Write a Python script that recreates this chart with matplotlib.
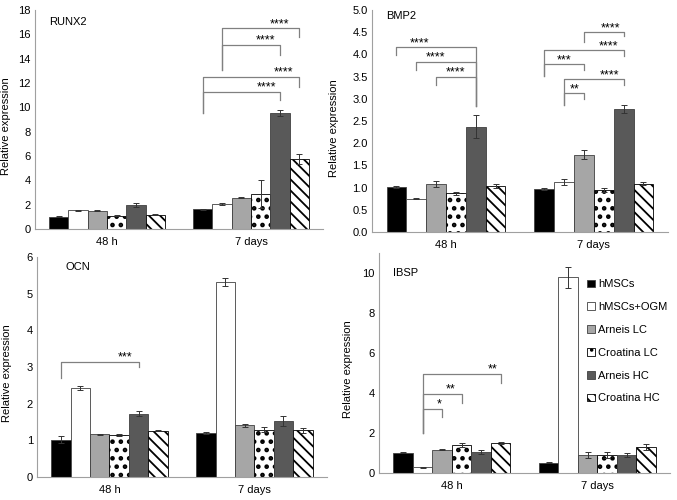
import matplotlib.pyplot as plt
import numpy as np

plt.rcParams['font.family'] = ['Liberation Sans', 'DejaVu Sans']
plt.rcParams['font.size'] = 8
plt.rcParams['hatch.linewidth'] = 1.3

groups = ['48 h', '7 days']
samples = ['hMSCs', 'hMSCs+OGM', 'Arneis LC', 'Croatina LC', 'Arneis HC', 'Croatina HC']

# mean / error per group (48 h, 7 days), one value per sample
runx2 = [[1.0, 1.53, 1.52, 1.1, 1.97, 1.18],
         [1.64, 2.05, 2.57, 2.87, 9.57, 5.74]]
runx2_err = [[0.05, 0.03, 0.06, 0.03, 0.2, 0.04],
             [0.04, 0.1, 0.05, 1.13, 0.25, 0.4]]

bmp2 = [[1.01, 0.75, 1.08, 0.87, 2.37, 1.04],
        [0.97, 1.13, 1.74, 0.95, 2.77, 1.09]]
bmp2_err = [[0.02, 0.01, 0.07, 0.04, 0.26, 0.05],
            [0.02, 0.07, 0.1, 0.05, 0.1, 0.04]]

ocn = [[1.02, 2.43, 1.16, 1.14, 1.73, 1.26],
       [1.2, 5.32, 1.41, 1.29, 1.53, 1.27]]
ocn_err = [[0.09, 0.05, 0.02, 0.03, 0.07, 0.01],
           [0.03, 0.12, 0.04, 0.07, 0.13, 0.08]]

ibsp = [[1.02, 0.28, 1.17, 1.39, 1.04, 1.5],
        [0.52, 9.78, 0.89, 0.89, 0.89, 1.3]]
ibsp_err = [[0.04, 0.02, 0.04, 0.1, 0.1, 0.07],
            [0.03, 0.52, 0.15, 0.15, 0.1, 0.15]]

# significance brackets: (group, left bar, right bar, top, left end, right end, label, label x frac)
runx2_sig = [(1, 0, 4, 11.3, 9.52, 10.61, '****', 0.82),
             (1, 0, 5, 12.53, 9.52, 11.65, '****', 0.84),
             (1, 1, 4, 15.13, 13.07, 14.3, '****', 0.75),
             (1, 1, 5, 16.49, 13.07, 15.75, '****', 0.75)]
bmp2_sig = [(0, 0, 4, 4.16, 3.99, 2.83, '****', 0.29),
            (0, 1, 4, 3.83, 3.65, 2.83, '****', 0.33),
            (0, 2, 4, 3.5, 3.31, 2.83, '****', 0.48),
            (1, 0, 2, 3.78, 3.52, 3.65, '***', 0.49),
            (1, 0, 4, 4.09, 3.52, 3.97, '****', 0.81),
            (1, 1, 2, 3.12, 2.86, 3.0, '**', 0.53),
            (1, 1, 4, 3.44, 2.86, 3.31, '****', 0.77),
            (1, 2, 4, 4.5, 4.27, 4.42, '****', 0.66)]
ocn_sig = [(0, 0, 4, 3.15, 2.7, 3.0, '***', 0.83)]
ibsp_sig = [(0, 1, 2, 3.21, 2.0, 2.81, '*', 0.84),
            (0, 1, 3, 3.95, 2.0, 3.51, '**', 0.72),
            (0, 1, 5, 4.95, 2.0, 4.52, '**', 0.9)]

colors = ['black', 'white', '#a6a6a6', 'white', '#595959', 'white']
hatches = [None, None, None, '..', None, '\\\\\\']
hatch_lw = [1.3, 1.3, 1.3, 2.1, 1.3, 1.3]
width = 0.134
gx = np.arange(len(groups))


def bar_x(g, i):
    return gx[g] + (i - 2.5) * width


def panel(ax, name, vals, errs, sig, ymax, yticks, fmt, namepos, ylabx):
    vals = np.array(vals)
    errs = np.array(errs)
    for i, s in enumerate(samples):
        with plt.rc_context({'hatch.linewidth': hatch_lw[i]}):
            b = ax.bar(gx + (i - 2.5) * width, vals[:, i], width, color=colors[i],
                       edgecolor='black' if hatches[i] else '#404040', linewidth=0.6,
                       hatch=hatches[i], label=s, zorder=2)
        for p in b.patches:
            if hasattr(p, 'set_hatch_linewidth'):
                p.set_hatch_linewidth(hatch_lw[i])
        ax.errorbar(gx + (i - 2.5) * width, vals[:, i], yerr=errs[:, i], fmt='none',
                    ecolor='#333333', elinewidth=0.7, capsize=2, capthick=0.7, zorder=3)
    for g, a, b2, top, yl, yr, lab, fr in sig:
        x0, x1 = bar_x(g, a), bar_x(g, b2)
        ax.plot([x0, x0, x1, x1], [yl, top, top, yr], color='#808080', lw=0.9, zorder=1)
        ax.annotate(lab, (x0 + fr * (x1 - x0), top), xytext=(0, 3),
                    textcoords='offset points', ha='center', va='center', fontsize=9)
    ax.set_xlim(-0.5, 1.5)
    ax.set_ylim(0, ymax)
    ax.set_yticks(yticks)
    ax.set_yticklabels([fmt % t for t in yticks])
    ax.set_xticks(gx)
    ax.set_xticklabels(groups)
    ax.tick_params(axis='y', length=0, pad=3)
    ax.tick_params(axis='x', length=0, pad=6)
    for sp in ['top', 'right']:
        ax.spines[sp].set_visible(False)
    for sp in ['left', 'bottom']:
        ax.spines[sp].set_color('#a0a0a0')
        ax.spines[sp].set_linewidth(0.8)
    ax.set_ylabel('Relative expression')
    ax.yaxis.set_label_coords(ylabx, 0.47)
    ax.text(namepos[0], namepos[1], name, transform=ax.transAxes, ha='left', va='center')


fig = plt.figure(figsize=(6.77, 5.0), dpi=100)
ax1 = fig.add_axes([0.0517, 0.542, 0.4254, 0.438])
ax2 = fig.add_axes([0.5495, 0.536, 0.437, 0.444])
ax3 = fig.add_axes([0.0547, 0.046, 0.428, 0.44])
ax4 = fig.add_axes([0.56, 0.054, 0.43, 0.44])

panel(ax1, 'RUNX2', runx2, runx2_err, runx2_sig, 18, np.arange(0, 19, 2), '%d', (0.05, 0.945), -0.085)
panel(ax2, 'BMP2', bmp2, bmp2_err, bmp2_sig, 5, np.arange(0, 5.01, 0.5), '%.1f', (0.047, 0.975), -0.112)
panel(ax3, 'OCN', ocn, ocn_err, ocn_sig, 6, np.arange(0, 7, 1), '%d', (0.097, 0.956), -0.088)
panel(ax4, 'IBSP', ibsp, ibsp_err, ibsp_sig, 11, np.arange(0, 11, 2), '%d', (0.048, 0.91), -0.089)

ax4.legend(loc='upper left', bbox_to_anchor=(0.7, 0.9), frameon=False, labelspacing=1.15,
           handlelength=0.7, handleheight=0.7, handletextpad=0.3, borderaxespad=0, fontsize=8)

fig.savefig('out.png', dpi=100)
